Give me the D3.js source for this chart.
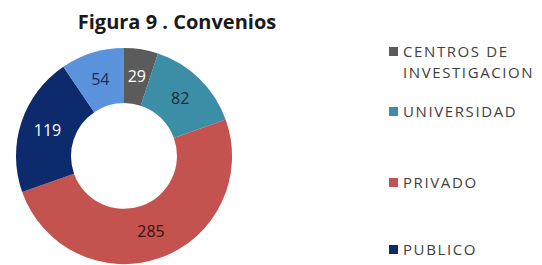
<!DOCTYPE html>
<html>
<head>
<meta charset="utf-8">
<script src="https://cdn.jsdelivr.net/npm/d3@7"></script>
<style>
  body { margin: 0; background: #fff; }
  svg { display: block; }
  .title { font-family: "Open Sans", sans-serif; font-weight: bold; font-size: 20px; fill: #1a1a1a; }
  .lbl { font-family: "Open Sans", sans-serif; font-size: 16px; }
  .legend text { font-family: "Open Sans", sans-serif; font-size: 15px; fill: #404040; letter-spacing: 1.6px; }
</style>
</head>
<body>
<svg id="chart"></svg>
<script>
// data, clockwise from 12 o'clock
var categories = ["CENTROS DE INVESTIGACION", "UNIVERSIDAD", "PRIVADO", "PUBLICO", ""];
var values = [29, 82, 285, 119, 54];
var colors = ["#5b5b5b", "#3b8ea6", "#c4524f", "#0c2a6c", "#5a93db"];
var labelColors = ["#ffffff", "#1b2a3a", "#3a1010", "#ffffff", "#1b2a5a"];

var WIDTH = 542, HEIGHT = 265;
var cx = 124, cy = 156;
var outer = 108, inner = 53;

var svg = d3.select("#chart")
    .attr("width", WIDTH)
    .attr("height", HEIGHT);

svg.append("text")
    .attr("class", "title")
    .attr("x", 177)
    .attr("y", 29)
    .attr("text-anchor", "middle")
    .text("Figura 9 . Convenios");

var pie = d3.pie()
    .sort(null)
    .value(function(d) { return d; });

var arc = d3.arc()
    .innerRadius(inner)
    .outerRadius(outer);

var g = svg.append("g")
    .attr("transform", "translate(" + cx + "," + cy + ")");

var slices = g.selectAll(".arc")
    .data(pie(values))
    .enter().append("g")
    .attr("class", "arc");

slices.append("path")
    .attr("d", arc)
    .style("fill", function(d, i) { return colors[i]; });

slices.append("text")
    .attr("class", "lbl")
    .attr("transform", function(d) { return "translate(" + arc.centroid(d) + ")"; })
    .attr("dy", ".35em")
    .attr("text-anchor", "middle")
    .style("fill", function(d, i) { return labelColors[i]; })
    .text(function(d) { return d.data; });

// legend: only named categories are listed
var legendY = [52, 112, 183, 250];
var legend = svg.append("g").attr("class", "legend");

var items = legend.selectAll("g")
    .data(categories.filter(function(c) { return c !== ""; }))
    .enter().append("g")
    .attr("transform", function(d, i) { return "translate(389," + legendY[i] + ")"; });

items.append("rect")
    .attr("x", 0)
    .attr("y", -5)
    .attr("width", 9)
    .attr("height", 9)
    .style("fill", function(d, i) { return colors[i]; });

items.append("text")
    .each(function(d) {
      var lines = d === "CENTROS DE INVESTIGACION" ? ["CENTROS DE", "INVESTIGACION"] : [d];
      var t = d3.select(this);
      lines.forEach(function(line, j) {
        t.append("tspan")
          .attr("x", 14)
          .attr("dy", j === 0 ? ".35em" : "21px")
          .text(line);
      });
    });
</script>
</body>
</html>
